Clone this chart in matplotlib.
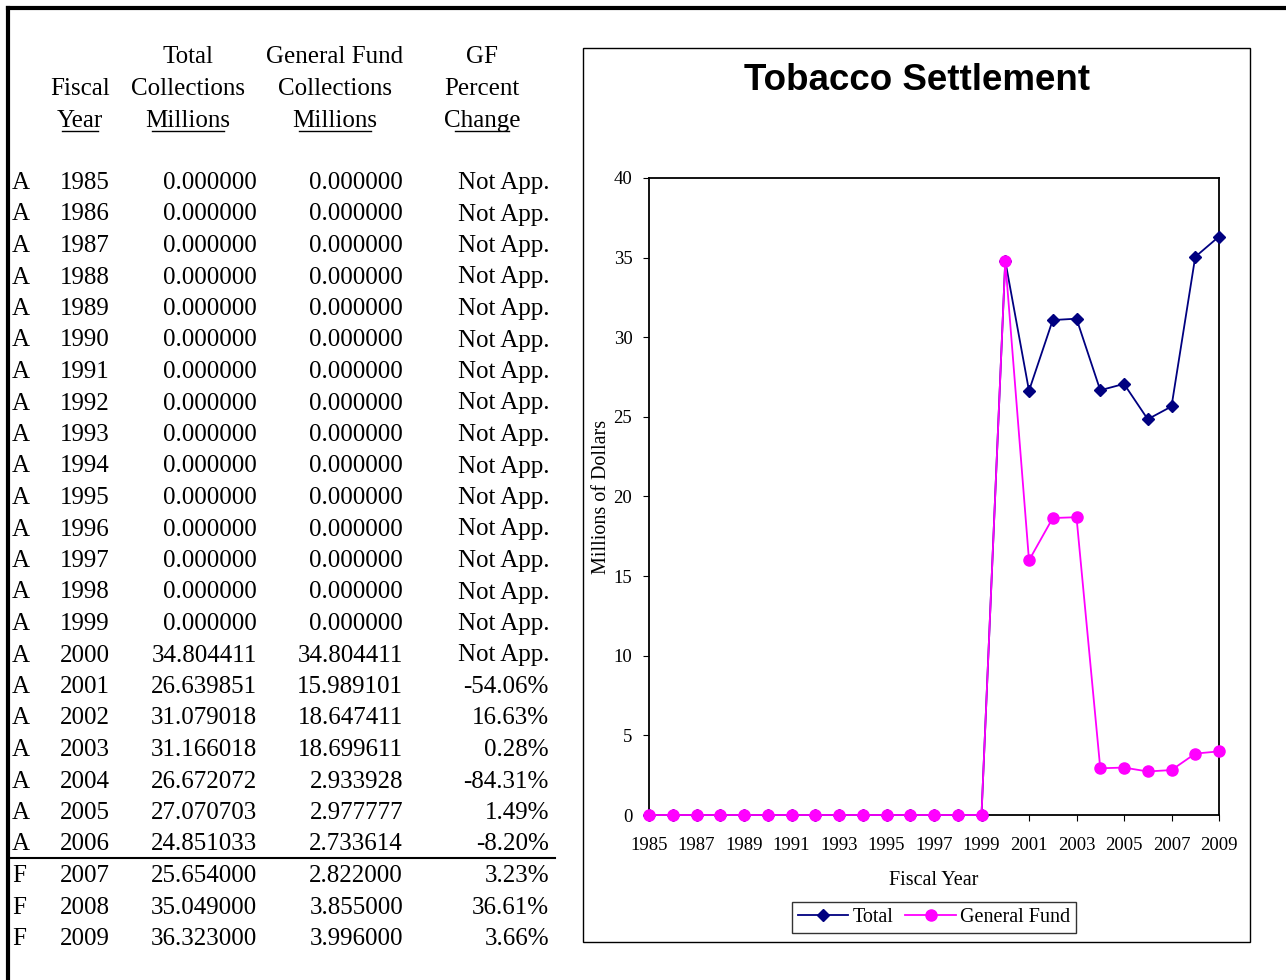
import matplotlib
matplotlib.use("Agg")
import matplotlib.pyplot as plt
from matplotlib.patches import Rectangle
from matplotlib.lines import Line2D

years = list(range(1985, 2010))
status = ["A"]*22 + ["F"]*3
total = [0]*15 + [34.804411, 26.639851, 31.079018, 31.166018, 26.672072, 27.070703, 24.851033, 25.654, 35.049, 36.323]
gf = [0]*15 + [34.804411, 15.989101, 18.647411, 18.699611, 2.933928, 2.977777, 2.733614, 2.822, 3.855, 3.996]
pct = ["Not App."]*16 + ["-54.06%", "16.63%", "0.28%", "-84.31%", "1.49%", "-8.20%", "3.23%", "36.61%", "3.66%"]

W, H = 1286, 980
fig = plt.figure(figsize=(W/100, H/100), dpi=100)
serif = "Liberation Serif"

def px(x, y):
    return x / W, 1 - y / H

fig.add_artist(Line2D([px(8,0)[0], 1], [px(0,8)[1]]*2, color="black", lw=3))
fig.add_artist(Line2D([px(8,0)[0]]*2, [px(0,8)[1], 0], color="black", lw=3))

fs = 18

hdr = [(80, ["", "Fiscal", "Year"]), (188, ["Total", "Collections", "Millions"]),
       (335, ["General Fund", "Collections", "Millions"]), (482, ["GF", "Percent", "Change"])]
for x, lines in hdr:
    for i, s in enumerate(lines):
        if s:
            fig.text(*px(x, 57 + 32*i), s, ha="center", va="center", fontsize=fs, family=serif)
    w = len(lines[2]) * 9.1
    fig.add_artist(Line2D([px(x - w/2, 0)[0], px(x + w/2, 0)[0]], [px(0, 131)[1]]*2, color="black", lw=1))

for i in range(len(years)):
    y = 183 + i * 31.5
    fig.text(*px(12, y), status[i], ha="left", va="center", fontsize=fs, family=serif)
    fig.text(*px(85, y), str(years[i]), ha="center", va="center", fontsize=fs, family=serif)
    fig.text(*px(257, y), f"{total[i]:.6f}", ha="right", va="center", fontsize=fs, family=serif)
    fig.text(*px(403, y), f"{gf[i]:.6f}", ha="right", va="center", fontsize=fs, family=serif)
    fig.text(*px(549, y), pct[i], ha="right", va="center", fontsize=fs, family=serif)
fig.add_artist(Line2D([px(10,0)[0], px(555,0)[0]], [px(0,858)[1]]*2, color="black", lw=1.5))

x0, y0 = px(583, 942)
fig.add_artist(Rectangle((x0, y0), (1250-583)/W, (942-48)/H, fill=False, ec="black", lw=1))
fig.text(*px(917, 81), "Tobacco Settlement", ha="center", va="center", fontsize=26.5,
         fontweight="bold", family="Liberation Sans")

ax = fig.add_axes([649/W, 1-815/H, (1219-649)/W, (815-178)/H])
ax.plot(years, total, color="#000080", marker="D", ms=6, lw=1.3, label="Total", clip_on=False, zorder=3)
ax.plot(years, gf, color="#FF00FF", marker="o", ms=8, lw=1.3, label="General Fund", clip_on=False, zorder=4)
ax.set_xlim(1985, 2009)
ax.set_ylim(0, 40)
ax.set_yticks(range(0, 41, 5))
ax.set_xticks(range(1985, 2010, 2))
ax.tick_params(labelsize=13.5, direction="out", length=4)
ax.tick_params(axis="x", pad=12)
ax.tick_params(axis="y", pad=8)
for lab in ax.get_xticklabels() + ax.get_yticklabels():
    lab.set_family(serif)
for s in ax.spines.values():
    s.set_linewidth(1.3)
ax.set_ylabel("Millions of Dollars", fontsize=14.5, family=serif, labelpad=2)
ax.set_xlabel("Fiscal Year", fontsize=14.5, family=serif, labelpad=12)
leg = ax.legend(loc="upper center", bbox_to_anchor=(0.5, -0.12), ncol=2, frameon=True,
                fancybox=False, edgecolor="black", prop={"family": serif, "size": 14.5},
                handlelength=2.5, columnspacing=0.6, handletextpad=0.2, borderpad=0.3)
leg.get_frame().set_linewidth(1)
fig.savefig("out.png", dpi=100)
